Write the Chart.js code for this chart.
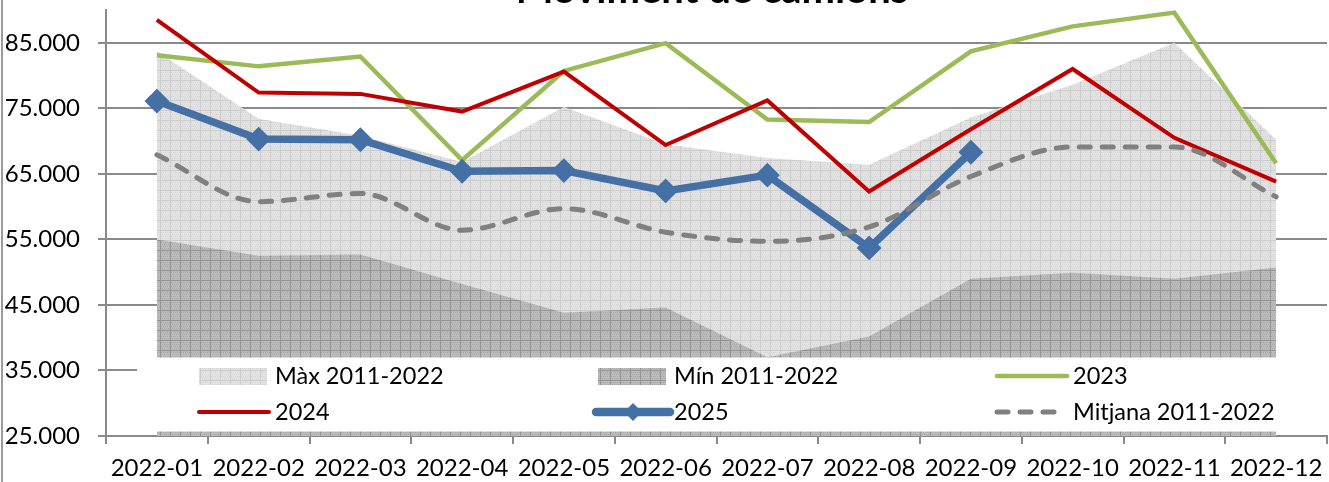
<!DOCTYPE html>
<html>
<head>
<meta charset="utf-8">
<title>Moviment de camions</title>
<script src="https://cdn.jsdelivr.net/npm/chart.js@4.4.1/dist/chart.umd.min.js"></script>
<style>
  html, body { margin: 0; padding: 0; background: #fff; overflow: hidden; }
  #wrap { width: 1329px; height: 482px; position: relative; }
</style>
</head>
<body>
<div id="wrap"><canvas id="camions" width="1329" height="482"></canvas></div>
<script>
// dades llegides del gràfic
var labels = ['2022-01', '2022-02', '2022-03', '2022-04', '2022-05', '2022-06',
              '2022-07', '2022-08', '2022-09', '2022-10', '2022-11', '2022-12'];
var maxValues = [83700, 73400, 70800, 66800, 75200, 69500, 67400, 66400, 73600, 78600, 85000, 70200];
var minValues = [55000, 52500, 52700, 48200, 43800, 44600, 37000, 40200, 49000, 49900, 49000, 50700];
var values2023 = [83100, 81400, 82900, 67100, 80700, 84950, 73300, 72900, 83700, 87500, 89600, 66600];
var values2024 = [88500, 77400, 77200, 74500, 80600, 69400, 76200, 62300, 71800, 81000, 70500, 63800];
var values2025 = [76100, 70300, 70200, 65400, 65500, 62400, 64800, 53700, 68300, null, null, null];
var avgValues = [67900, 60750, 62000, 56400, 59700, 56100, 54700, 56900, 64600, 69100, 69100, 61500];
var yTicks = [25000, 35000, 45000, 55000, 65000, 75000, 85000];

var FONT = 'Lato, "Open Sans", sans-serif';

function makePattern(base, dot, line) {
    var c = document.createElement('canvas');
    c.width = 10; c.height = 10;
    var g = c.getContext('2d');
    g.fillStyle = base;
    g.fillRect(0, 0, 10, 10);
    g.fillStyle = dot;
    for (var y = 0; y < 10; y += 2) {
        for (var x = (y / 2) % 2; x < 10; x += 2) g.fillRect(x, y, 1, 1);
    }
    g.fillStyle = line;
    g.fillRect(0, 0, 10, 1);
    g.fillRect(0, 0, 1, 10);
    return g.createPattern(c, 'repeat');
}

var ctx = document.getElementById('camions').getContext('2d');
var maxPattern = makePattern('#e3e3e3', '#d6d6d6', '#cbcbcb');
var minPattern = makePattern('#bcbcbc', '#a9a9a9', '#939393');

function fmt(v) {
    return String(v).replace(/\B(?=(\d{3})+(?!\d))/g, '.');
}

// llegenda dins l'area del grafic, amb fons blanc
var boxLegend = {
    id: 'boxLegend',
    afterDraw: function (chart) {
        var c = chart.ctx;
        var ds = chart.data.datasets;
        c.save();
        // vora esquerra del marc
        c.fillStyle = '#9a9a9a';
        c.fillRect(1, 0, 2, 482);

        c.fillStyle = '#ffffff';
        c.fillRect(137, 357.5, 1192, 74);

        var cols = [199, 598, 997];
        var rows = [376, 412];
        for (var i = 0; i < ds.length; i++) {
            var d = ds[i];
            var x = cols[i % 3], y = rows[Math.floor(i / 3)];
            if (d.fill) {
                c.fillStyle = d.backgroundColor;
                c.fillRect(x, y - 8, 68, 17);
            } else {
                var x1 = x, x2 = x + 70;
                if (d.pointRadius) { x1 = x - 2; x2 = x + 72; }
                c.beginPath();
                c.strokeStyle = d.borderColor;
                c.lineWidth = d.borderWidth + (d.pointRadius ? 1 : 0);
                c.lineCap = 'round';
                c.setLineDash(d.borderDash ? d.borderDash : []);
                c.moveTo(x1, y);
                c.lineTo(d.borderDash ? x + 64 : x2, y);
                c.stroke();
                c.setLineDash([]);
                if (d.pointRadius) {
                    var cx = (x1 + x2) / 2, r = 9;
                    c.fillStyle = d.borderColor;
                    c.beginPath();
                    c.moveTo(cx - r, y); c.lineTo(cx, y - r);
                    c.lineTo(cx + r, y); c.lineTo(cx, y + r);
                    c.closePath();
                    c.fill();
                }
            }
            c.fillStyle = '#000000';
            c.font = '23.5px ' + FONT;
            c.textAlign = 'left';
            c.textBaseline = 'middle';
            c.fillText(d.label, cols[i % 3] + 76, y);
        }

        // titol, tallat a dalt com a l'original
        c.font = 'bold 40px ' + FONT;
        c.textAlign = 'center';
        c.textBaseline = 'alphabetic';
        c.fillStyle = '#000000';
        c.fillText('Moviment de camions', 712, 3);
        c.restore();
    }
};

new Chart(ctx, {
    type: 'line',
    data: {
        labels: labels,
        datasets: [
            { label: 'Màx 2011-2022', data: maxValues, fill: 'start', backgroundColor: maxPattern,
              borderWidth: 0, pointRadius: 0, tension: 0, order: 6 },
            { label: 'Mín 2011-2022', data: minValues, fill: 'start', backgroundColor: minPattern,
              borderWidth: 0, pointRadius: 0, tension: 0, order: 5 },
            { label: '2023', data: values2023, borderColor: '#9BBB59', borderWidth: 4.5,
              pointRadius: 0, fill: false, tension: 0, order: 4 },
            { label: '2024', data: values2024, borderColor: '#C00000', borderWidth: 4,
              pointRadius: 0, fill: false, tension: 0, order: 3 },
            { label: '2025', data: values2025, borderColor: '#4470A6', backgroundColor: '#4470A6',
              borderWidth: 7.5, pointStyle: 'rectRot', pointRadius: 11, pointBorderWidth: 2,
              pointBackgroundColor: '#4470A6', pointBorderColor: '#4470A6',
              fill: false, tension: 0, order: 2 },
            { label: 'Mitjana 2011-2022', data: avgValues, borderColor: '#808080', borderWidth: 5,
              borderDash: [11, 12], borderCapStyle: 'round', pointRadius: 0, fill: false,
              cubicInterpolationMode: 'monotone', order: 1 }
        ]
    },
    options: {
        responsive: false,
        animation: false,
        devicePixelRatio: 1,
        layout: { autoPadding: false, padding: { top: 10, right: 2, bottom: 0, left: 0 } },
        plugins: {
            legend: { display: false },
            title: { display: false },
            tooltip: { enabled: false }
        },
        scales: {
            x: {
                offset: true,
                grid: { offset: true, drawOnChartArea: false, drawTicks: true, tickLength: 8, color: '#8a8a8a', lineWidth: 2 },
                border: { display: true, color: '#8a8a8a', width: 2 },
                ticks: { color: '#000', font: { family: FONT, size: 24 }, padding: 10, maxRotation: 0, autoSkip: false },
                afterFit: function (s) {
                    s.height = 46;
                    s.paddingLeft = 0; s.paddingRight = 0;
                }
            },
            y: {
                min: 25000,
                max: 90000,
                afterBuildTicks: function (s) {
                    s.ticks = yTicks.map(function (v) { return { value: v }; });
                },
                grid: { color: '#8a8a8a', lineWidth: 2, tickLength: 8 },
                border: { display: true, color: '#8a8a8a', width: 2 },
                ticks: { color: '#000', font: { family: FONT, size: 24 }, padding: 18,
                         callback: function (v) { return fmt(v); } },
                afterFit: function (s) {
                    s.width = 106;
                    s.paddingTop = 0; s.paddingBottom = 0;
                }
            }
        }
    },
    plugins: [boxLegend]
});
</script>
</body>
</html>
